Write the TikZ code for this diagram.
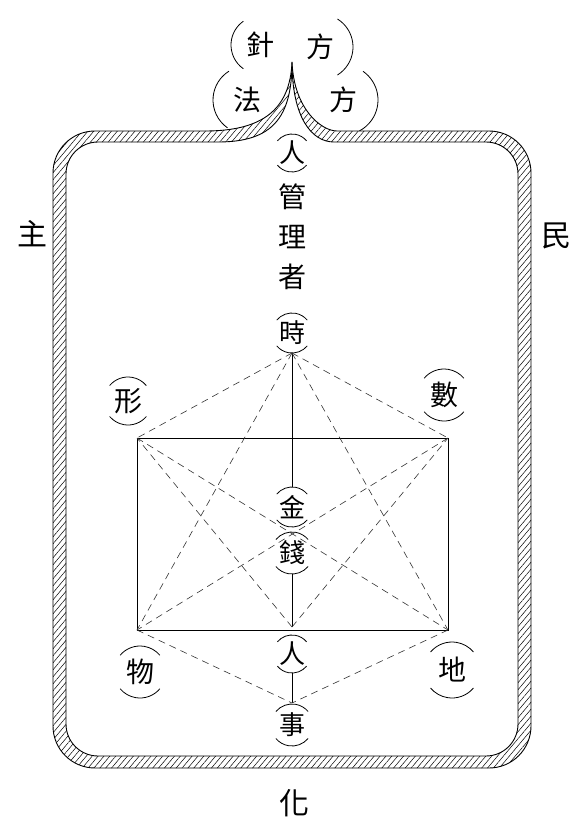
\documentclass[tikz,border=0pt]{standalone}
\usepackage{fontspec}
\newfontfamily\cjk{Noto Sans CJK TC}
\usetikzlibrary{patterns.meta}
\begin{document}
\begin{tikzpicture}[x=1pt,y=-1pt,
  ch/.style={font=\cjk\fontsize{26}{26}\selectfont, inner sep=0pt},
  mid/.style={font=\cjk\fontsize{28}{28}\selectfont, inner sep=0pt},
  big/.style={font=\cjk\fontsize{30}{30}\selectfont, inner sep=0pt},
  dline/.style={dash pattern=on 7pt off 5pt, line width=0.6pt, black!80},
  sline/.style={line width=0.9pt},
  arcline/.style={line width=0.8pt},
  band/.style={line width=0.9pt}
]
\useasboundingbox (0,0) rectangle (578,817);

% frame with hatched band
\fill[pattern={Lines[angle=50,distance=4.5pt,line width=0.5pt]}, even odd rule]
  (292,62) .. controls (290,110) and (262,131) .. (205,131)
  [rounded corners=42] -- (53,131) -- (53,768) -- (531,768) -- (531,131) -- (379,131)
  [sharp corners] .. controls (322,131) and (294,110) .. (292,62)
  (292,62) .. controls (292,118) and (272,142) .. (218,142)
  [rounded corners=32] -- (66,142) -- (66,756) -- (518,756) -- (518,142) -- (366,142)
  [sharp corners] .. controls (312,142) and (292,118) .. (292,62);
\draw[band]
  (292,62) .. controls (290,110) and (262,131) .. (205,131)
  [rounded corners=42] -- (53,131) -- (53,768) -- (531,768) -- (531,131) -- (379,131)
  [sharp corners] .. controls (322,131) and (294,110) .. (292,62);
\draw[band]
  (292,62) .. controls (292,118) and (272,142) .. (218,142)
  [rounded corners=32] -- (66,142) -- (66,756) -- (518,756) -- (518,142) -- (366,142)
  [sharp corners] .. controls (312,142) and (292,118) .. (292,62);

% texts
\node[mid] (zhen) at (260,45) {針};
\node[mid] (fangA) at (320,47) {方};
\node[mid] (fa) at (247,100) {法};
\node[mid] (fangB) at (343,100) {方};
\node[ch] (renA) at (292,153) {人};
\node[mid] (guan) at (292,197) {管};
\node[mid] (li) at (292,237) {理};
\node[mid] (zhe) at (292,277) {者};
\node[ch] (shi) at (292,333) {時};
\node[mid] (xing) at (128,401) {形};
\node[mid] (shu) at (444,395) {數};
\node[ch] (jin) at (292,507) {金};
\node[ch] (qian) at (292,553) {錢};
\node[mid] (wu) at (140,672) {物};
\node[ch] (renB) at (292,654) {人};
\node[mid] (di) at (452,670) {地};
\node[ch] (shiB) at (292,725) {事};
\node[big] (zhu) at (32,234) {主};
\node[big] (min) at (556,236) {民};
\node[big] (hua) at (294,803) {化};

% arcs around characters (above and below)
\foreach \n/\rr in {renA/19, shi/20, xing/24, shu/26, jin/20, qian/21, wu/26, renB/19, di/28, shiB/21}{
  \draw[arcline] (\n.center) ++(40:\rr) arc[start angle=40, end angle=140, radius=\rr];
  \draw[arcline] (\n.center) ++(220:\rr) arc[start angle=220, end angle=320, radius=\rr];
}
% side arcs for the top pairs
\draw[arcline] (zhen.center) ++(125:29) arc[start angle=125, end angle=235, radius=29];
\draw[arcline] (fangA.center) ++(-58:33) arc[start angle=-58, end angle=58, radius=33];
\draw[arcline] (fa.center) ++(125:34) arc[start angle=125, end angle=238, radius=34];
\draw[arcline] (fangB.center) ++(-55:35) arc[start angle=-55, end angle=62, radius=35];

% key points
\coordinate (T) at (292,353);
\coordinate (B) at (292,627);
\coordinate (E) at (292,703);
\coordinate (TL) at (137,438);
\coordinate (TR) at (448,438);
\coordinate (BL) at (137,630);
\coordinate (BR) at (448,630);
\coordinate (J1) at (292,487);
\coordinate (J2) at (292,574);
\coordinate (R2) at (292,673);

% rectangle
\draw[sline] (TL) rectangle (BR);

% solid vertical line
\draw[sline] (T) -- (J1);
\draw[sline] (J2) -- (B);
\draw[sline] (R2) -- (E);

% dashed lines
\draw[dline] (T) -- (TL);
\draw[dline] (T) -- (TR);
\draw[dline] (T) -- (BL);
\draw[dline] (T) -- (BR);
\draw[dline] (B) -- (TL);
\draw[dline] (B) -- (TR);
\draw[dline] (TL) -- (BR);
\draw[dline] (TR) -- (BL);
\draw[dline] (BL) -- (E);
\draw[dline] (BR) -- (E);
\end{tikzpicture}
\end{document}
